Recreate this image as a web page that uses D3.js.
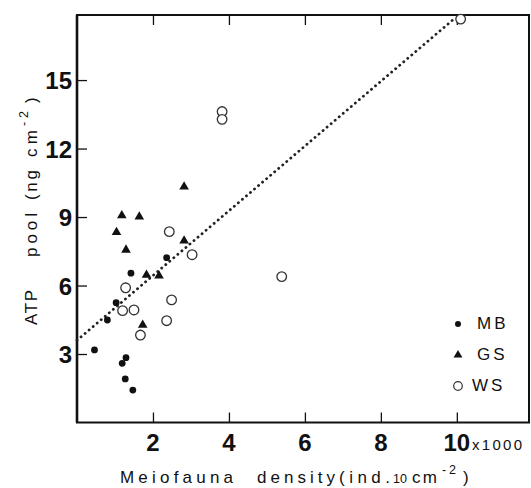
<!DOCTYPE html>
<html>
<head>
<meta charset="utf-8">
<script src="https://cdn.jsdelivr.net/npm/d3@7"></script>
<style>
  body { margin: 0; background: #fff; }
  svg { display: block; font-family: "Liberation Sans", Arial, sans-serif; }
</style>
</head>
<body>
<div id="chart"></div>
<script>
// values (x in thousands of ind. per 10 cm2, y in ng cm-2)
const mbX = [0.46, 1.19, 1.29, 1.27, 1.47, 0.80, 1.03, 1.42, 2.36];
const mbY = [3.18, 2.59, 2.84, 1.91, 1.42, 4.49, 5.25, 6.54, 7.22];
const gsX = [2.82, 1.18, 1.64, 1.04, 1.29, 2.82, 1.83, 2.16, 1.73];
const gsY = [10.33, 9.07, 9.01, 8.33, 7.56, 7.96, 6.46, 6.43, 4.27];
const wsX = [3.82, 3.82, 10.1, 5.39, 2.43, 3.03, 1.28, 2.49, 1.20, 1.50, 2.36, 1.67];
const wsY = [13.62, 13.28, 17.67, 6.39, 8.36, 7.35, 5.90, 5.37, 4.90, 4.93, 4.46, 3.83];
const fitX = [0, 9.92];
const fitY = [3.6, 17.67];
const xTicks = [2, 4, 6, 8, 10];
const yTicks = [3, 6, 9, 12, 15];
const legendNames = ["MB", "GS", "WS"];

const width = 531, height = 488;
const mLeft = 77, mRight = 529, mTop = 15, mBottom = 422.5;

const svg = d3.select("#chart").append("svg")
    .attr("width", width)
    .attr("height", height);

const x = d3.scaleLinear().domain([0, 11.9]).range([mLeft, mRight]);
const y = d3.scaleLinear().domain([0, 17.85]).range([mBottom, mTop]);

const ink = "#111";

// frame
svg.append("rect")
    .attr("x", mLeft).attr("y", mTop)
    .attr("width", mRight - mLeft).attr("height", mBottom - mTop)
    .attr("fill", "none").attr("stroke", ink).attr("stroke-width", 2);
svg.append("line")
    .attr("x1", mLeft).attr("x2", mLeft).attr("y1", mTop).attr("y2", mBottom)
    .attr("stroke", ink).attr("stroke-width", 2.6);

// inward ticks, bottom and top
svg.append("g").attr("transform", `translate(0,${mBottom})`)
    .call(d3.axisBottom(x).tickValues(xTicks).tickSize(-10).tickFormat(""))
    .call(g => g.select(".domain").remove())
    .call(g => g.selectAll("line").attr("stroke", ink).attr("stroke-width", 1.3));
svg.append("g").attr("transform", `translate(0,${mTop})`)
    .call(d3.axisTop(x).tickValues(xTicks).tickSize(-10).tickFormat(""))
    .call(g => g.select(".domain").remove())
    .call(g => g.selectAll("line").attr("stroke", ink).attr("stroke-width", 1.3));
svg.append("g").attr("transform", `translate(${mLeft},0)`)
    .call(d3.axisLeft(y).tickValues(yTicks).tickSize(-10).tickFormat(""))
    .call(g => g.select(".domain").remove())
    .call(g => g.selectAll("line").attr("stroke", ink).attr("stroke-width", 1.3));

// tick labels
svg.selectAll(".xlab").data(xTicks).join("text")
    .attr("class", "xlab")
    .attr("x", d => x(d))
    .attr("y", 451)
    .attr("text-anchor", "middle")
    .attr("font-size", 24).attr("font-weight", "bold").attr("fill", ink)
    .text(d => d);

svg.append("text")
    .attr("x", 472).attr("y", 450)
    .attr("font-size", 15).attr("letter-spacing", 2.3).attr("fill", ink)
    .text("x1000");

svg.selectAll(".ylab").data(yTicks).join("text")
    .attr("class", "ylab")
    .attr("x", 72)
    .attr("y", d => y(d) + 9)
    .attr("text-anchor", "end")
    .attr("font-size", 24).attr("font-weight", "bold").attr("fill", ink)
    .text(d => d);

// axis titles, laid out piece by piece (spaced lettering as in the print)
function spacedTitle(g, pieces, baseY) {
    pieces.forEach(p => {
        const t = g.append("text")
            .attr("x", p[1]).attr("y", baseY + (p[4] || 0))
            .attr("font-size", p[3])
            .attr("fill", ink)
            .text(p[0]);
        const n = p[0].length;
        if (n > 1) {
            const natural = t.node().getComputedTextLength();
            const ls = Math.max(0, (p[2] - p[1] - natural) / (n - 1));
            t.attr("letter-spacing", ls.toFixed(2));
        }
    });
}
spacedTitle(svg.append("g"), [
    ["Meiofauna", 120, 233, 17],
    ["density", 257, 335, 17],
    ["(ind.", 339, 390, 17],
    ["10", 393, 407, 12.5],
    ["cm", 412, 437, 17],
    ["-2", 442, 456, 12.5, -9],
    [")", 463, 470, 17]
], 483);

spacedTitle(svg.append("g").attr("transform", "translate(37,325) rotate(-90)"), [
    ["ATP", 0, 35, 17],
    ["pool", 68, 112, 17],
    ["(ng", 125, 155, 17],
    ["cm", 168, 195, 17],
    ["-2", 199, 214, 12.5, -9],
    [")", 222, 228, 17]
], 0);

// dotted regression line
const fit = fitX.map((d, i) => [d, fitY[i]]);
svg.append("path")
    .attr("d", d3.line().x(d => x(d[0])).y(d => y(d[1]))(fit))
    .attr("fill", "none")
    .attr("stroke", "#222")
    .attr("stroke-width", 2.8)
    .attr("stroke-linecap", "round")
    .attr("stroke-dasharray", "0.1 5.2");

const tri = d3.symbol().type(d3.symbolTriangle).size(40);

// points
svg.append("g").selectAll("circle").data(wsX.map((d, i) => [d, wsY[i]])).join("circle")
    .attr("cx", d => x(d[0])).attr("cy", d => y(d[1])).attr("r", 4.8)
    .attr("fill", "#fff").attr("stroke", "#333").attr("stroke-width", 1.3);

svg.append("g").selectAll("circle").data(mbX.map((d, i) => [d, mbY[i]])).join("circle")
    .attr("cx", d => x(d[0])).attr("cy", d => y(d[1])).attr("r", 3.4)
    .attr("fill", ink);

svg.append("g").selectAll("path").data(gsX.map((d, i) => [d, gsY[i]])).join("path")
    .attr("transform", d => `translate(${x(d[0])},${y(d[1])})`)
    .attr("d", tri)
    .attr("fill", ink);

// legend
const legend = svg.append("g").attr("transform", "translate(458,324)");
legendNames.forEach((name, i) => {
    const item = legend.append("g").attr("transform", `translate(0,${i * 31})`);
    if (name === "MB") {
        item.append("circle").attr("r", 3).attr("fill", ink);
    } else if (name === "GS") {
        item.append("path").attr("d", d3.symbol().type(d3.symbolTriangle).size(34)).attr("fill", ink);
    } else {
        item.append("circle").attr("r", 4.3).attr("fill", "#fff").attr("stroke", "#333").attr("stroke-width", 1.2);
    }
    item.append("text")
        .attr("x", name === "WS" ? 14 : 19).attr("y", 5)
        .attr("font-size", 17).attr("letter-spacing", 3).attr("fill", ink)
        .text(name);
});
</script>
</body>
</html>
